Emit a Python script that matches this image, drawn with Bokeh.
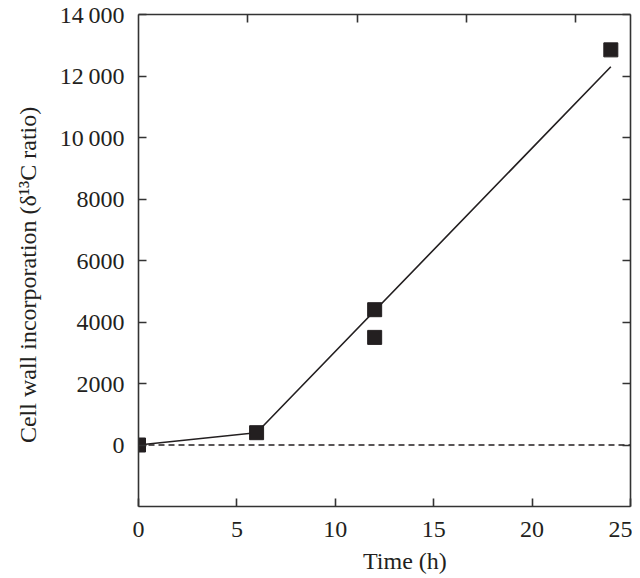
from bokeh.plotting import figure
from bokeh.models import Range1d, LinearAxis, FixedTicker
from bokeh.embed import file_html
from bokeh.resources import INLINE

# ---- data ----
time_h = [0, 6, 12, 12, 24]
incorporation = [0, 400, 4400, 3500, 12850]
fit_time = [0, 6, 24]
fit_value = [0, 400, 12300]
zero_time = [0, 25]
zero_value = [0, 0]

x_ticks = [0, 5, 10, 15, 20, 25]
top_ticks = [5, 10, 15, 20]
y_ticks = [0, 2000, 4000, 6000, 8000, 10000, 12000, 14000]
y_tick_labels = ["0", "2000", "4000", "6000", "8000", "10\u2009000", "12\u2009000", "14\u2009000"]

FONT = "Liberation Serif"
INK = "#231f20"
AX = "#333333"

p = figure(frame_width=492, frame_height=492,
           x_range=Range1d(0, 25), y_range=Range1d(-2000, 14000),
           output_backend="svg", toolbar_location=None,
           x_axis_location=None, y_axis_location=None,
           min_border_left=138, min_border_top=14, min_border_right=2,
           min_border_bottom=62)
p.extra_x_ranges = {"top": Range1d(0, 22.5)}
p.grid.visible = False
p.outline_line_color = None
p.background_fill_color = "white"
p.border_fill_color = "white"


def style(ax, labels=True):
    ax.axis_line_color = AX
    ax.axis_line_width = 1.6
    ax.major_tick_line_color = AX
    ax.major_tick_line_width = 1.6
    ax.major_tick_in = 8
    ax.major_tick_out = 0
    ax.minor_tick_line_color = None
    ax.major_label_text_font = FONT
    ax.major_label_text_font_size = "24px"
    ax.axis_label_text_font = FONT
    ax.axis_label_text_font_size = "24px"
    ax.axis_label_text_font_style = "normal"
    ax.axis_label_text_color = INK
    if labels:
        ax.major_label_text_color = INK
    else:
        ax.major_label_text_color = None
        ax.major_label_standoff = 0


bottom = LinearAxis(ticker=FixedTicker(ticks=x_ticks))
style(bottom)
bottom.major_label_standoff = 15
bottom.axis_label = "\u2003\u2002\u2009Time (h)"
bottom.axis_label_standoff = 8
p.add_layout(bottom, "below")

left = LinearAxis(ticker=FixedTicker(ticks=y_ticks))
style(left)
left.major_label_standoff = 14
left.major_label_overrides = {t: s for t, s in zip(y_ticks, y_tick_labels)}
left.axis_label = "Cell wall incorporation (\u03b4\u00b9\u00b3C ratio)\u2003\u2009"
left.axis_label_standoff = 16
p.add_layout(left, "left")

top = LinearAxis(ticker=FixedTicker(ticks=top_ticks), x_range_name="top")
style(top, labels=False)
p.add_layout(top, "above")

right = LinearAxis(ticker=FixedTicker(ticks=y_ticks))
style(right, labels=False)
p.add_layout(right, "right")

# zero baseline (dashed)
p.line(zero_time, zero_value, line_color=INK, line_width=1.3, line_dash="6 4")
# fitted line
p.line(fit_time, fit_value, line_color=INK, line_width=1.6)
# data points
p.scatter(time_h, incorporation, marker="square", size=14,
          fill_color=INK, line_color=INK)

open("out.html", "w").write(file_html(p, INLINE))
